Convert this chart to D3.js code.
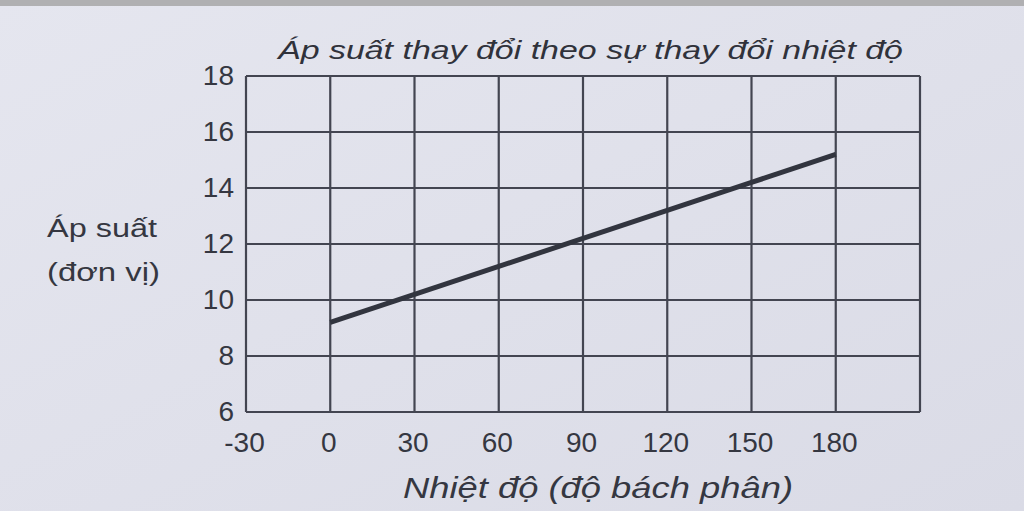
<!DOCTYPE html>
<html><head><meta charset="utf-8">
<script src="https://cdn.jsdelivr.net/npm/d3@7"></script>
<style>html,body{margin:0;padding:0;background:#e3e4ed;}svg{display:block;}</style>
</head><body>
<script>
const temps = [0, 30, 60, 90, 120, 150, 180];
const pressure = [9.2, 10.2, 11.2, 12.2, 13.2, 14.2, 15.2];
const xTicks = [-30, 0, 30, 60, 90, 120, 150, 180, 210];
const xTickLabels = ["-30", "0", "30", "60", "90", "120", "150", "180", ""];
const yTicks = [6, 8, 10, 12, 14, 16, 18];
const titleText = "Áp suất thay đổi theo sự thay đổi nhiệt độ";
const xTitle = "Nhiệt độ (độ bách phân)";
const yTitleLines = ["Áp suất", "(đơn vị)"];

const W = 1024, H = 511;
const m = {left: 246, right: 104, top: 76, bottom: 99};
const ink = "#353741";
const font = "'Liberation Sans', Arial, sans-serif";

const svg = d3.select("body").append("svg").attr("width", W).attr("height", H);
const defs = svg.append("defs");
const g0 = defs.append("linearGradient").attr("id","bg").attr("x1",0).attr("y1",0).attr("x2",1).attr("y2",1);
g0.append("stop").attr("offset","0%").attr("stop-color","#e5e6ef");
g0.append("stop").attr("offset","100%").attr("stop-color","#dadbe6");
svg.append("rect").attr("width",W).attr("height",H).attr("fill","url(#bg)");
svg.append("rect").attr("width",W).attr("height",6).attr("fill","#b0b0b2");

const x = d3.scaleLinear().domain([-30, 210]).range([m.left, W - m.right]);
const y = d3.scaleLinear().domain([6, 18]).range([H - m.bottom, m.top]);

// grid
const grid = svg.append("g").attr("stroke", "#434551").attr("stroke-width", 2.2).attr("fill","none");
grid.selectAll("line.v").data(xTicks).join("line").attr("class","v")
  .attr("x1", d => x(d)).attr("x2", d => x(d)).attr("y1", y(18)).attr("y2", y(6));
grid.selectAll("line.h").data(yTicks).join("line").attr("class","h")
  .attr("x1", x(-30)).attr("x2", x(210)).attr("y1", d => y(d)).attr("y2", d => y(d));

// axes labels
const xAxis = d3.axisBottom(x).tickValues(xTicks).tickSize(0).tickPadding(0)
  .tickFormat((d,i) => xTickLabels[i]);
const gx = svg.append("g").attr("transform", `translate(0,${y(6)})`).call(xAxis);
gx.select(".domain").remove();
gx.selectAll("text").attr("font-family", font).attr("font-size", 28).attr("fill", ink)
  .attr("y", 40).attr("dy", 0).attr("dx", -2);

const yAxis = d3.axisLeft(y).tickValues(yTicks).tickSize(0).tickPadding(0).tickFormat(d3.format("d"));
const gy = svg.append("g").attr("transform", `translate(${x(-30) - 12},0)`).call(yAxis);
gy.select(".domain").remove();
gy.selectAll("text").attr("font-family", font).attr("font-size", 28).attr("fill", ink).attr("dy","0.3em");

// line
const line = d3.line().x((d,i) => x(temps[i])).y(d => y(d));
svg.append("path").datum(pressure).attr("d", line)
  .attr("fill","none").attr("stroke","#32353f").attr("stroke-width",5);

// titles
svg.append("text").attr("x", 278).attr("y", 59)
  .attr("font-family", font).attr("font-style","italic").attr("font-size", 25).attr("fill", "#30323b")
  .attr("textLength", 625).attr("lengthAdjust", "spacingAndGlyphs")
  .text(titleText);
svg.append("text").attr("x", 403).attr("y", 498)
  .attr("font-family", font).attr("font-style","italic").attr("font-size", 29).attr("fill", ink)
  .attr("textLength", 390).attr("lengthAdjust", "spacingAndGlyphs")
  .text(xTitle);
const yLens = [110, 113];
svg.append("g").selectAll("text").data(yTitleLines).join("text")
  .attr("x", 47).attr("y", (d,i) => 237 + i*44)
  .attr("font-family", font).attr("font-size", 25).attr("fill", ink)
  .attr("textLength", (d,i) => yLens[i]).attr("lengthAdjust", "spacingAndGlyphs")
  .text(d => d);
</script>
</body></html>
